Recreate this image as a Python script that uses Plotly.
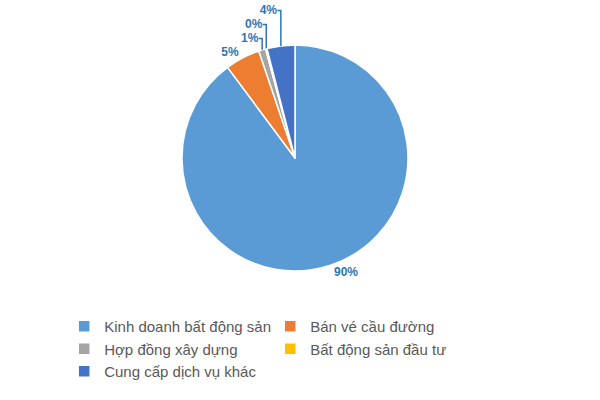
import plotly.graph_objects as go

categories = [
    "Kinh doanh bất động sản",
    "Bán vé cầu đường",
    "Hợp đồng xây dựng",
    "Bất động sản đầu tư",
    "Cung cấp dịch vụ khác",
]
shares = [90, 5, 1, 0.2, 4]
label_text = ["90%", "5%", "1%", "0%", "4%"]
colors = ["#5B9BD5", "#ED7D31", "#A5A5A5", "#FFC000", "#4472C4"]

fig = go.Figure(
    go.Pie(
        labels=categories,
        values=shares,
        text=label_text,
        textinfo="text",
        textposition="outside",
        sort=False,
        direction="clockwise",
        rotation=0,
        automargin=False,
        marker=dict(colors=colors, line=dict(color="white", width=1.5)),
        textfont=dict(family="Liberation Sans", size=12, color="#2E75B6"),
        texttemplate="<b>%{text}</b>",
        domain=dict(x=[0.3033, 0.68], y=[0.3225, 0.8875]),
    )
)

fig.update_layout(
    width=600,
    height=400,
    margin=dict(l=0, r=0, t=0, b=0, autoexpand=False),
    paper_bgcolor="white",
    plot_bgcolor="white",
    font=dict(family="Liberation Sans", size=15, color="#595959"),
    legend=dict(
        orientation="h",
        x=0.107,
        xanchor="left",
        y=0.225,
        yanchor="top",
        entrywidth=161,
        entrywidthmode="pixels",
        itemwidth=30,
        traceorder="normal",
    ),
)

# drop the browser's default 8px body margin so the figure sits at the page corner
fig.write_html(
    "out.html",
    config={"displayModeBar": False},
    post_script="document.body.style.margin='0';",
)
